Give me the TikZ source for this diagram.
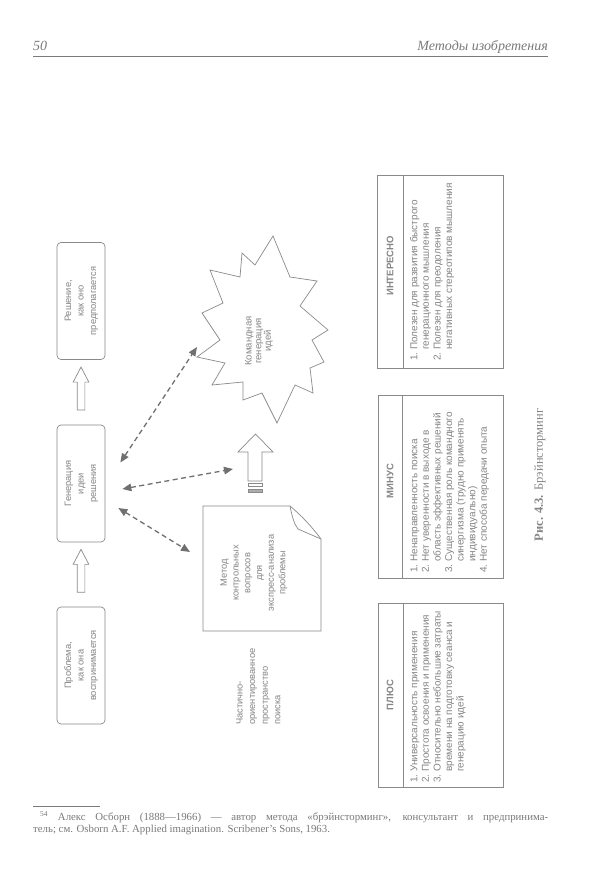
\documentclass[tikz,border=0pt]{standalone}
\usepackage{fontspec}
\setmainfont{Liberation Serif}
\setsansfont{Liberation Sans}
\usetikzlibrary{arrows.meta,calc,shapes.arrows}
\definecolor{ink}{HTML}{8A8A8A}
\definecolor{txt}{HTML}{858585}
\definecolor{dsh}{HTML}{707070}
\definecolor{hdr}{HTML}{7A7A7A}
\begin{document}
\begin{tikzpicture}[x=1pt,y=-1pt,
  box/.style={draw=ink, rounded corners=4pt, line width=0.7pt, minimum width=48pt, minimum height=117pt, inner sep=0pt, text=txt, font=\sffamily\fontsize{9.3}{12.5}\selectfont},
  blockarrow/.style={single arrow, draw=ink, line width=0.7pt, single arrow head extend=4pt, single arrow tip angle=55, minimum height=43pt, inner sep=3.5pt, rotate=90},
  dashar/.style={draw=dsh, line width=1.3pt, dash pattern=on 5pt off 3.5pt, {Triangle[length=9pt,width=7.5pt]}-{Triangle[length=9pt,width=7.5pt]}},
  frame/.style={draw=ink, line width=0.7pt},
  diagtext/.style={text=txt, inner sep=0pt, font=\sffamily\fontsize{9.3}{11.7}\selectfont},
  tabtitle/.style={rotate=90, text=txt, inner sep=0pt, font=\sffamily\bfseries\fontsize{9.5}{9.5}\selectfont},
  tabbody/.style={rotate=90, anchor=north west, text=txt, inner sep=0pt, font=\sffamily\fontsize{10}{11.6}\selectfont}
]
\useasboundingbox[fill=white] (0,0) rectangle (589,872);

% header
\node[anchor=base west, inner sep=0, text=hdr, font=\itshape\fontsize{14}{14}\selectfont] (pg) at (33,51) {50};
\node[anchor=base east, inner sep=0, text=hdr, font=\itshape\fontsize{14}{14}\selectfont] (ttl) at (548,51) {Методы изобретения};
\draw[hdr, line width=0.8pt] (33,56) -- (548,56);

% left column boxes
\node[box] (prob) at (81,665.5) {\rotatebox{90}{\begin{tabular}{@{}c@{}}Проблема,\\как она\\воспринимается\end{tabular}}};
\node[box] (gen) at (81,483.5) {\rotatebox{90}{\begin{tabular}{@{}c@{}}Генерация\\идеи\\решения\end{tabular}}};
\node[box] (sol) at (81,301) {\rotatebox{90}{\begin{tabular}{@{}c@{}}Решение,\\как оно\\предполагается\end{tabular}}};

\node[blockarrow] (a1) at ($(prob.north)!0.5!(gen.south)$) {};
\node[blockarrow] (a2) at ($(gen.north)!0.5!(sol.south)$) {};

% star
\draw[frame] (273,236) -- (290,277) -- (317,281) -- (300,306) -- (328,330) -- (312,340) -- (324,362) -- (310,368) -- (313,393) -- (295,385) -- (277,423) -- (262,393) -- (243,400) -- (243,382) -- (212,385) -- (225,363) -- (197,357) -- (220,340) -- (202,313) -- (223,303) -- (210,270) -- (240,277) -- (242,253) -- (255,265) -- cycle;
\node[diagtext, rotate=90, align=center, font=\sffamily\fontsize{9.5}{9.6}\selectfont] (team) at (259,341) {Командная\\генерация\\идей};

% big arrow to star
\draw[frame] (255.5,434) -- (273,452) -- (262,452) -- (262,481) -- (248,481) -- (248,452) -- (238,452) -- cycle;
\draw[frame, line width=0.6pt] (248,483.5) rectangle (262,486.5);
\draw[frame, fill=ink!70, line width=0.5pt] (248,489) rectangle (262,492);
\coordinate (bigtail) at (233,469);

% method box with folded corner
\draw[frame] (203,506) -- (290,506) .. controls (303,517) and (312,527) .. (321,539) -- (321,631) -- (203,631) -- cycle;
\draw[frame] (290,506) .. controls (292,516) and (294,524) .. (298,529) -- (321,539);
\node[diagtext, rotate=90, align=center] (metod) at (254,573) {Метод\\контрольных\\вопросов\\для\\экспресс-анализа\\проблемы};
\coordinate (metodtip) at (190,552);
\coordinate (startip) at (197,347);

% dashed connectors
\draw[dashar] ($(gen.east)+(15,-21)$) -- (startip);
\draw[dashar] ($(gen.east)+(17,5.5)$) -- (bigtail);
\draw[dashar] ($(gen.east)+(13,24.5)$) -- (metodtip);

% partially oriented search space
\node[diagtext, rotate=90, align=left, anchor=north west, font=\sffamily\fontsize{9.3}{12.6}\selectfont] (space) at (236,725) {Частично-\\ориентированное\\пространство\\поиска};

% tables
\draw[frame] (377,175) rectangle (503,368);
\draw[frame] (403,175) -- (403,368);
\node[tabtitle] (intt) at (390,266) {ИНТЕРЕСНО};
\node[tabbody] (intb) at (409,361) {\begin{tabular}{@{}r@{\ }l@{}}1.&Полезен для развития быстрого\\&генерационного мышления\\2.&Полезен для преодоления\\&негативных стереотипов мышления\end{tabular}};

\draw[frame] (378,395) rectangle (503,578);
\draw[frame] (402,395) -- (402,578);
\node[tabtitle] (mint) at (390,481) {МИНУС};
\node[tabbody] (minb) at (409,573) {\begin{tabular}{@{}r@{\ }l@{}}1.&Ненаправленность поиска\\2.&Нет уверенности в выходе в\\&область эффективных решений\\3.&Существенная роль командного\\&синергизма (трудно применять\\&индивидуально)\\4.&Нет способа передачи опыта\end{tabular}};

\draw[frame] (378,603) rectangle (503,787);
\draw[frame] (403,603) -- (403,787);
\node[tabtitle] (plust) at (390,695) {ПЛЮС};
\node[tabbody] (plusb) at (409,783) {\begin{tabular}{@{}r@{\ }l@{}}1.&Универсальность применения\\2.&Простота освоения и применения\\3.&Относительно небольшие затраты\\&времени на подготовку сеанса и\\&генерацию идей\end{tabular}};

% caption
\node[rotate=90, text=txt, inner sep=0, font=\fontsize{12.5}{12.5}\selectfont] (cap) at (540,475) {\textbf{Рис. 4.3.} Брэйнсторминг};

% footnote
\draw[hdr, line width=0.5pt] (33,806) -- (100,806);
\node[anchor=base west, inner sep=0, text=hdr, font=\fontsize{10.8}{12}\selectfont] (fn1) at (40,820) {\makebox[508pt][s]{\textsuperscript{54} Алекс Осборн (1888—1966) — автор метода «брэйнсторминг», консультант и предпринима-}};
\node[anchor=base west, inner sep=0, text=hdr, font=\fontsize{10.8}{12}\selectfont] (fn2) at (33,832) {тель; см. Osborn A.F. Applied imagination. Scribener's Sons, 1963.};
\end{tikzpicture}
\end{document}
